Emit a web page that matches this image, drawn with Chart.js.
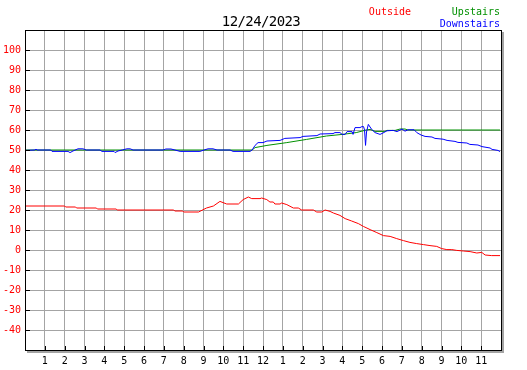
<!DOCTYPE html>
<html>
<head>
<meta charset="utf-8">
<script src="https://cdn.jsdelivr.net/npm/chart.js@4.4.0/dist/chart.umd.min.js"></script>
<style>
  body { margin: 0; background: #fff; }
</style>
</head>
<body>
<canvas id="grafico" width="527" height="370"></canvas>
<script>
// eixo x: horas do dia (0..24), rótulos no formato 12h
const hourLabels = ['', '1', '2', '3', '4', '5', '6', '7', '8', '9', '10', '11', '12',
                    '1', '2', '3', '4', '5', '6', '7', '8', '9', '10', '11', ''];

const outsideHours = [0, 2.0, 2.05, 2.55, 2.6, 3.6, 3.65, 4.6, 4.65, 7.5, 7.55, 7.95, 8.0, 8.75,
    9.15, 9.5, 9.83, 10.17, 10.76, 11.0, 11.26, 11.43, 11.85, 11.93, 12.19, 12.35, 12.52, 12.6,
    12.86, 12.94, 13.2, 13.53, 13.78, 13.95, 14.54, 14.71, 14.96, 15.13, 15.38, 15.55, 15.88,
    16.14, 16.47, 16.81, 17.06, 17.4, 17.74, 18.07, 18.41, 18.74, 19.08, 19.41, 19.75, 20.09,
    20.42, 20.76, 21.01, 21.27, 21.52, 21.77, 22.1, 22.44, 22.78, 23.03, 23.2, 23.53, 23.95];
const outsideTemps = [22, 22, 21.5, 21.5, 21, 21, 20.5, 20.5, 20, 20, 19.5, 19.5, 19, 19,
    21, 22, 24.3, 23, 23, 25.2, 26.5, 25.7, 25.7, 26, 25.2, 24, 24, 23,
    23, 23.5, 22.7, 21, 21, 20, 20, 19, 19, 20, 19.3, 18.5, 17.3,
    15.7, 14.5, 13.2, 11.8, 10.2, 8.7, 7.2, 6.8, 5.7, 4.7, 3.8, 3.2, 2.7,
    2.2, 1.8, 0.7, 0.2, 0.2, -0.2, -0.5, -0.8, -1.5, -1.2, -2.5, -2.8, -2.8];

const upstairsHours = [0, 11.45, 11.6, 12.2, 13.2, 14.2, 15.2, 16.0, 16.7, 17.2, 17.4, 17.65,
    18.15, 18.25, 18.66, 18.91, 19.16, 19.31, 23.95];
const upstairsTemps = [50, 50, 51.2, 52.3, 53.7, 55.3, 57, 57.8, 58.7, 60, 60.3, 59.3,
    59.3, 59.8, 59.8, 60.5, 60.5, 60, 60];

const downstairsHours = [0, 0.5, 0.55, 0.6, 1.3, 1.36, 2.17, 2.27, 2.42, 2.67,
    2.92, 3.1, 3.78, 3.88, 4.49, 4.54, 4.69, 4.9, 5.14, 5.3,
    5.45, 6.96, 7.1, 7.36, 7.56, 7.82, 8.82, 9.03, 9.23, 9.48,
    9.68, 10.34, 10.49, 11.35, 11.45, 11.6, 11.75, 12.0, 12.2, 12.86,
    13.1, 13.87, 14.02, 14.72, 14.88, 15.53, 15.63, 15.88, 15.99, 16.14,
    16.24, 16.49, 16.54, 16.64, 16.89, 16.99, 17.07, 17.12, 17.17, 17.22,
    17.31, 17.48, 17.65, 17.9, 18.05, 18.25, 18.56, 18.76, 19.01, 19.16,
    19.31, 19.62, 19.77, 19.97, 20.17, 20.52, 20.67, 21.08, 21.28, 21.68,
    21.83, 22.28, 22.43, 22.84, 23.04, 23.45, 23.55, 23.85, 23.95];
const downstairsTemps = [49.8, 50, 50.5, 50, 50, 49.3, 49.3, 48.7, 49.5, 50.6,
    50.6, 50, 50, 49.3, 49.3, 48.7, 49.5, 50, 50.6, 50.6,
    50, 50, 50.5, 50.5, 50, 49.3, 49.3, 50, 50.6, 50.6,
    50, 50, 49.3, 49.3, 50, 52.3, 53.7, 53.7, 54.5, 54.8,
    55.8, 56.2, 56.8, 57.2, 58, 58.2, 58.7, 58.7, 57.8, 57.8,
    59.2, 59.2, 57.8, 61.2, 61.2, 61.7, 61.7, 60, 52.3, 59,
    62.8, 60.3, 58.7, 57.8, 58.5, 59.6, 59.8, 59.2, 60.5, 59.4,
    60.1, 60.1, 58.6, 57.5, 56.8, 56.5, 55.8, 55.4, 54.8, 54.3,
    53.8, 53.5, 52.8, 52.5, 51.7, 51.0, 50.3, 49.8, 49.2];

const titulo = '12/24/2023';
const mono = '"DejaVu Sans Mono", monospace';
const cinza = '#a4a4a4';

function pontos(horas, valores) {
    return horas.map((h, i) => ({ x: h, y: valores[i] }));
}

// moldura, sombra, marcas internas, título e legenda
const moldura = {
    id: 'moldura',
    afterDraw(chart) {
        const { ctx, chartArea: a, scales } = chart;
        ctx.save();
        ctx.fillStyle = cinza;
        ctx.fillRect(a.right + 1, a.top + 2, 2, a.bottom - a.top + 1);
        ctx.fillRect(a.left + 2, a.bottom + 1, a.right - a.left + 1, 2);

        ctx.strokeStyle = '#000';
        ctx.lineWidth = 1;
        ctx.strokeRect(a.left + 0.5, a.top + 0.5, a.right - a.left, a.bottom - a.top);

        ctx.beginPath();
        for (let v = -40; v <= 100; v += 10) {
            const py = Math.round(scales.y.getPixelForValue(v)) + 0.5;
            ctx.moveTo(a.left, py);
            ctx.lineTo(a.left + 5, py);
        }
        for (let h = 1; h < 24; h++) {
            const px = Math.round(scales.x.getPixelForValue(h)) + 0.5;
            ctx.moveTo(px, a.bottom);
            ctx.lineTo(px, a.bottom - 4);
        }
        ctx.stroke();

        ctx.fillStyle = '#000';
        ctx.font = '14px ' + mono;
        ctx.letterSpacing = '-0.6px';
        ctx.textAlign = 'center';
        ctx.fillText(titulo, 261, 25.5);

        ctx.letterSpacing = '0px';
        ctx.font = '10px ' + mono;
        ctx.textAlign = 'right';
        const ds = chart.data.datasets;
        ctx.fillStyle = ds[2].borderColor;
        ctx.fillText(ds[2].label, 411, 15);
        ctx.fillStyle = ds[1].borderColor;
        ctx.fillText(ds[1].label, 500, 15);
        ctx.fillStyle = ds[0].borderColor;
        ctx.fillText(ds[0].label, 500, 27);
        ctx.restore();
    }
};

new Chart(document.getElementById('grafico'), {
    type: 'line',
    data: {
        datasets: [{
            label: 'Downstairs',
            data: pontos(downstairsHours, downstairsTemps),
            borderColor: '#0000ff',
            borderWidth: 1,
            pointRadius: 0
        },
        {
            label: 'Upstairs',
            data: pontos(upstairsHours, upstairsTemps),
            borderColor: '#009000',
            borderWidth: 1,
            pointRadius: 0
        },
        {
            label: 'Outside',
            data: pontos(outsideHours, outsideTemps),
            borderColor: '#ff0000',
            borderWidth: 1,
            pointRadius: 0
        }]
    },
    options: {
        responsive: false,
        animation: false,
        devicePixelRatio: 1,
        layout: { padding: { top: 30, right: 26, left: 0, bottom: 0 } },
        plugins: {
            legend: { display: false },
            tooltip: { enabled: false }
        },
        scales: {
            x: {
                type: 'linear',
                min: 0,
                max: 24,
                afterFit: s => { s.height = 20; },
                border: { display: false },
                grid: { color: cinza, drawTicks: false },
                ticks: {
                    stepSize: 1,
                    autoSkip: false,
                    maxRotation: 0,
                    padding: 5,
                    color: '#000',
                    font: { family: mono, size: 10 },
                    callback: v => hourLabels[v]
                }
            },
            y: {
                min: -50,
                max: 110,
                afterFit: s => { s.width = 25; },
                border: { display: false },
                grid: { color: cinza, drawTicks: false },
                ticks: {
                    stepSize: 10,
                    padding: 4,
                    color: '#ff0000',
                    font: { family: mono, size: 10 },
                    callback: v => (v <= -50 || v >= 110) ? '' : v
                }
            }
        }
    },
    plugins: [moldura]
});
</script>
</body>
</html>
